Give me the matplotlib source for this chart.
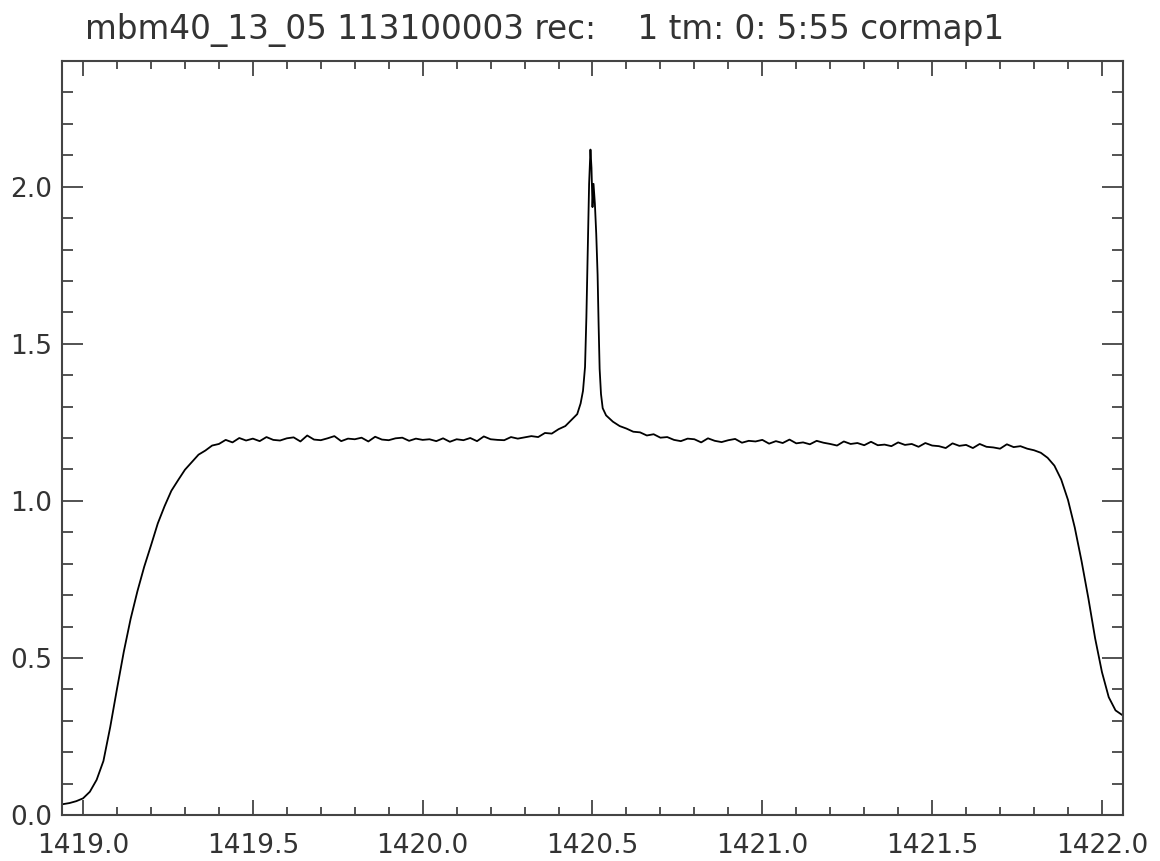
import numpy as np
import matplotlib
matplotlib.use("Agg")
import matplotlib.pyplot as plt
from matplotlib.ticker import MultipleLocator, FormatStrFormatter

# spectrum (frequency in MHz, arbitrary power units)
freq_left = [1418.938, 1418.96, 1418.98, 1419.00, 1419.02, 1419.04, 1419.06, 1419.08,
             1419.10, 1419.12, 1419.14, 1419.16, 1419.18, 1419.20, 1419.22, 1419.24,
             1419.26, 1419.28, 1419.30, 1419.32, 1419.34, 1419.36, 1419.38, 1419.40]
power_left = [0.034, 0.038, 0.044, 0.053, 0.074, 0.112, 0.172, 0.280,
              0.402, 0.520, 0.624, 0.712, 0.790, 0.858, 0.928, 0.983,
              1.032, 1.066, 1.099, 1.123, 1.147, 1.160, 1.176, 1.181]

freq_flat1 = [1419.42, 1419.44, 1419.46, 1419.48, 1419.50, 1419.52, 1419.54, 1419.56,
              1419.58, 1419.60, 1419.62, 1419.64, 1419.66, 1419.68, 1419.70, 1419.72,
              1419.74, 1419.76, 1419.78, 1419.80, 1419.82, 1419.84, 1419.86, 1419.88,
              1419.90, 1419.92, 1419.94, 1419.96, 1419.98, 1420.00, 1420.02, 1420.04,
              1420.06, 1420.08, 1420.10, 1420.12, 1420.14, 1420.16, 1420.18, 1420.20,
              1420.22, 1420.24, 1420.26, 1420.28, 1420.30]
power_flat1 = [1.194, 1.186, 1.200, 1.192, 1.198, 1.190, 1.203, 1.194, 1.192, 1.199,
               1.202, 1.189, 1.208, 1.195, 1.193, 1.199, 1.206, 1.190, 1.198, 1.196,
               1.201, 1.189, 1.204, 1.195, 1.193, 1.199, 1.201, 1.191, 1.198, 1.194,
               1.196, 1.190, 1.199, 1.188, 1.196, 1.193, 1.200, 1.190, 1.205, 1.196,
               1.194, 1.193, 1.203, 1.198, 1.202]

freq_peak = [1420.32, 1420.34, 1420.36, 1420.38, 1420.40, 1420.42, 1420.44, 1420.455,
             1420.465, 1420.472, 1420.478, 1420.482, 1420.486, 1420.490, 1420.494,
             1420.497, 1420.500, 1420.503, 1420.507, 1420.511, 1420.515, 1420.518,
             1420.521, 1420.525, 1420.53, 1420.54, 1420.56, 1420.58, 1420.60, 1420.62,
             1420.64, 1420.66, 1420.68, 1420.70]
power_peak = [1.206, 1.203, 1.216, 1.214, 1.228, 1.238, 1.260, 1.276,
              1.310, 1.350, 1.426, 1.585, 1.797, 2.009, 2.118,
              2.060, 1.935, 2.009, 1.946, 1.850, 1.720, 1.560,
              1.420, 1.340, 1.295, 1.272, 1.252, 1.238, 1.230, 1.220,
              1.218, 1.208, 1.212, 1.201]

freq_flat2 = [1420.72, 1420.74, 1420.76, 1420.78, 1420.80, 1420.82, 1420.84, 1420.86,
              1420.88, 1420.90, 1420.92, 1420.94, 1420.96, 1420.98, 1421.00, 1421.02,
              1421.04, 1421.06, 1421.08, 1421.10, 1421.12, 1421.14, 1421.16, 1421.18,
              1421.20, 1421.22, 1421.24, 1421.26, 1421.28, 1421.30, 1421.32, 1421.34,
              1421.36, 1421.38, 1421.40, 1421.42, 1421.44, 1421.46, 1421.48, 1421.50,
              1421.52, 1421.54, 1421.56, 1421.58, 1421.60, 1421.62, 1421.64, 1421.66,
              1421.68, 1421.70, 1421.72, 1421.74, 1421.76, 1421.78]
power_flat2 = [1.203, 1.194, 1.190, 1.198, 1.196, 1.186, 1.199, 1.191, 1.187, 1.193,
               1.197, 1.185, 1.191, 1.189, 1.194, 1.182, 1.190, 1.184, 1.195, 1.183,
               1.186, 1.180, 1.191, 1.185, 1.181, 1.176, 1.189, 1.181, 1.184, 1.177,
               1.188, 1.177, 1.179, 1.174, 1.186, 1.178, 1.181, 1.172, 1.184, 1.176,
               1.174, 1.168, 1.183, 1.175, 1.178, 1.168, 1.181, 1.172, 1.170, 1.166,
               1.180, 1.171, 1.174, 1.166]

freq_right = [1421.80, 1421.82, 1421.84, 1421.86, 1421.88, 1421.90, 1421.92, 1421.94,
              1421.96, 1421.98, 1422.00, 1422.02, 1422.04, 1422.06]
power_right = [1.161, 1.153, 1.137, 1.112, 1.068, 1.003, 0.915, 0.808,
               0.690, 0.562, 0.455, 0.375, 0.333, 0.318]

title = "mbm40_13_05 113100003 rec:    1 tm: 0: 5:55 cormap1"

freq = np.array(freq_left + freq_flat1 + freq_peak + freq_flat2 + freq_right)
power = np.array(power_left + power_flat1 + power_peak + power_flat2 + power_right)

axis_col = "#444444"
text_col = "#333333"

fig = plt.figure(figsize=(11.6, 8.61), dpi=100)
ax = fig.add_axes([62 / 1160, 46 / 861, 1061 / 1160, 754 / 861])

ax.plot(freq, power, color="black", linewidth=1.3)

ax.set_xlim(1418.938, 1422.062)
ax.set_ylim(0.0, 2.4)
ax.xaxis.set_major_locator(MultipleLocator(0.5))
ax.xaxis.set_minor_locator(MultipleLocator(0.1))
ax.yaxis.set_major_locator(MultipleLocator(0.5))
ax.yaxis.set_minor_locator(MultipleLocator(0.1))
ax.xaxis.set_major_formatter(FormatStrFormatter("%.1f"))
ax.yaxis.set_major_formatter(FormatStrFormatter("%.1f"))

for s in ax.spines.values():
    s.set_color(axis_col)
    s.set_linewidth(1.5)

ax.tick_params(axis="x", which="both", direction="in", top=True, bottom=True,
               colors=axis_col, labelcolor=text_col, labelsize=19, width=1.3)
ax.tick_params(axis="x", which="major", length=11, pad=13)
ax.tick_params(axis="x", which="minor", length=5.5)
ax.tick_params(axis="y", which="both", direction="in", left=True, right=True,
               colors=axis_col, labelcolor=text_col, labelsize=19, width=1.3)
ax.tick_params(axis="y", which="major", length=15, pad=7)
ax.tick_params(axis="y", which="minor", length=8)

fig.text(85 / 1160, 1 - 30 / 861, title, ha="left", va="center",
         fontsize=23.5, color=text_col)

fig.savefig("out.png", dpi=100)
